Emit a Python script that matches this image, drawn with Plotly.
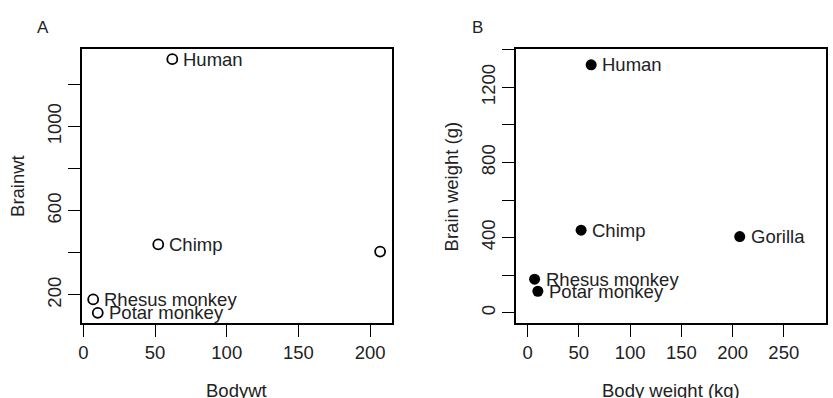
import plotly.graph_objects as go

W, H = 833, 398

species = ["Potar monkey", "Gorilla", "Human", "Rhesus monkey", "Chimp"]
bodywt = [10.0, 207.0, 62.0, 6.8, 52.2]
brainwt = [115, 406, 1320, 179, 440]
labels_a = ["Potar monkey", "", "Human", "Rhesus monkey", "Chimp"]
labels_b = species

xticks_a = [0, 50, 100, 150, 200]
yticks_a = [200, 400, 600, 800, 1000, 1200]
yticktext_a = ["200", "", "600", "", "1000", ""]
xticks_b = [0, 50, 100, 150, 200, 250]
yticks_b = [0, 200, 400, 600, 800, 1000, 1200, 1400]
yticktext_b = ["0", "", "400", "", "800", "", "1200", ""]

FONT = "Liberation Sans, Arial, Helvetica, sans-serif"
TXT = "#222222"
FS = 18.5


def px(p):
    return p / W


def py(p):
    return (H - p) / H


fig = go.Figure()

fig.add_trace(go.Scatter(
    x=bodywt, y=brainwt, mode="markers", xaxis="x", yaxis="y",
    marker=dict(symbol="circle-open", size=10, color="black", line=dict(width=1.8, color="black")),
    showlegend=False, hoverinfo="skip"))
fig.add_trace(go.Scatter(
    x=bodywt, y=brainwt, mode="markers", xaxis="x2", yaxis="y2",
    marker=dict(symbol="circle", size=11, color="black"),
    showlegend=False, hoverinfo="skip"))

annotations = []
for xv, yv, lab in zip(bodywt, brainwt, labels_a):
    if lab:
        annotations.append(dict(x=xv, y=yv, xref="x", yref="y", text=lab, showarrow=False,
                                xanchor="left", yanchor="middle", xshift=9,
                                font=dict(family=FONT, size=FS, color=TXT)))
for xv, yv, lab in zip(bodywt, brainwt, labels_b):
    if lab:
        annotations.append(dict(x=xv, y=yv, xref="x2", yref="y2", text=lab, showarrow=False,
                                xanchor="left", yanchor="middle", xshift=9,
                                font=dict(family=FONT, size=FS, color=TXT)))

# panel letters
annotations.append(dict(x=px(40), y=py(28), xref="paper", yref="paper", text="A", showarrow=False,
                        xanchor="center", yanchor="middle", font=dict(family=FONT, size=17, color=TXT)))
annotations.append(dict(x=px(476), y=py(27), xref="paper", yref="paper", text="B", showarrow=False,
                        xanchor="center", yanchor="middle", font=dict(family=FONT, size=17, color=TXT)))
# axis titles
annotations.append(dict(x=px(234), y=py(390), xref="paper", yref="paper", text="Bodywt", showarrow=False,
                        xanchor="center", yanchor="middle", font=dict(family=FONT, size=FS, color=TXT)))
annotations.append(dict(x=px(670), y=py(390), xref="paper", yref="paper", text="Body weight (kg)", showarrow=False,
                        xanchor="center", yanchor="middle", font=dict(family=FONT, size=FS, color=TXT)))
annotations.append(dict(x=px(14), y=py(186), xref="paper", yref="paper", text="Brainwt", showarrow=False,
                        textangle=-90, xanchor="center", yanchor="middle", font=dict(family=FONT, size=FS, color=TXT)))
annotations.append(dict(x=px(450), y=py(186), xref="paper", yref="paper", text="Brain weight (g)", showarrow=False,
                        textangle=-90, xanchor="center", yanchor="middle", font=dict(family=FONT, size=FS, color=TXT)))

axis_common = dict(showline=True, mirror=True, linecolor="black", linewidth=1.6,
                   ticks="outside", ticklen=12, tickwidth=1.4, tickcolor="black",
                   showgrid=False, zeroline=False,
                   tickfont=dict(family=FONT, size=FS, color=TXT))

ydom = [py(323), py(49)]

fig.update_layout(
    width=W, height=H, margin=dict(l=0, r=0, t=0, b=0),
    plot_bgcolor="white", paper_bgcolor="white",
    xaxis=dict(domain=[px(79), px(390)], range=[-1.2, 215.0], anchor="y",
               tickvals=xticks_a, ticktext=[str(v) for v in xticks_a], **axis_common),
    yaxis=dict(domain=ydom, range=[66.8, 1368.2], anchor="x",
               tickvals=yticks_a, ticktext=yticktext_a, tickangle=-90, **axis_common),
    xaxis2=dict(domain=[px(515), px(826)], range=[-11.2, 291.2], anchor="y2",
                tickvals=xticks_b, ticktext=[str(v) for v in xticks_b], **axis_common),
    yaxis2=dict(domain=ydom, range=[-54, 1404], anchor="x2",
                tickvals=yticks_b, ticktext=yticktext_b, tickangle=-90, **axis_common),
    annotations=annotations,
)

fig.write_html("out.html")
